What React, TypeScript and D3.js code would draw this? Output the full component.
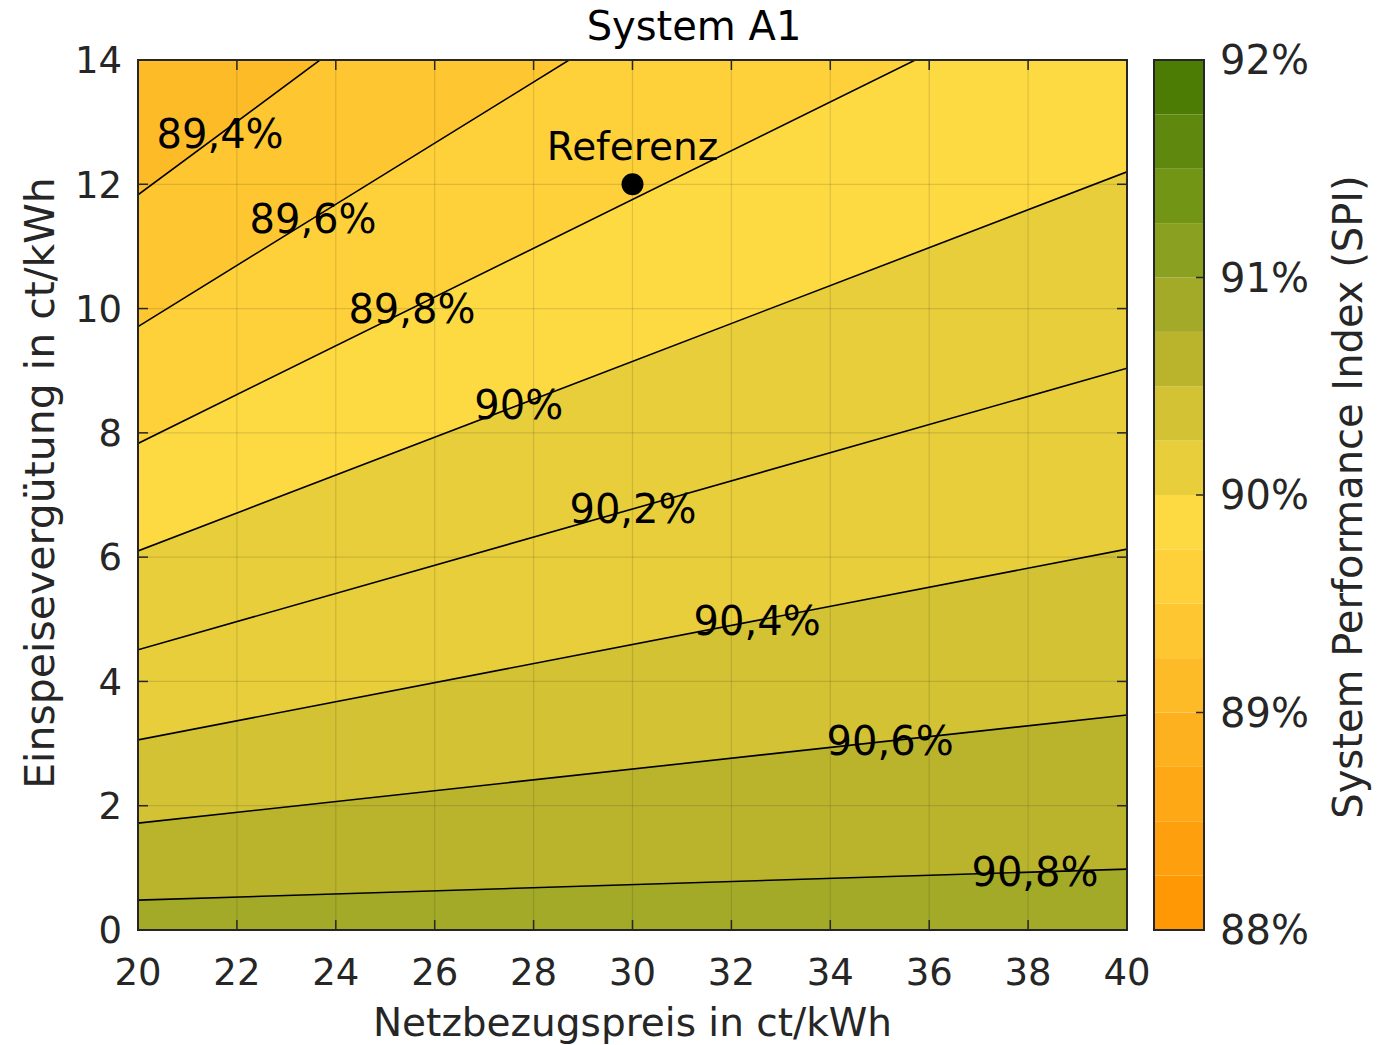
import React from "react";
import * as d3 from "d3";

// ---------- data ----------
const levels = [89.4, 89.6, 89.8, 90.0, 90.2, 90.4, 90.6, 90.8];
const levelLabels = ["89,4%", "89,6%", "89,8%", "90%", "90,2%", "90,4%", "90,6%", "90,8%"];
// contour line ordinates at x = 20 and x = 40 (ct/kWh)
const yAtX20 = [11.83, 9.71, 7.83, 6.10, 4.51, 3.06, 1.72, 0.48];
const yAtX40 = [23.62, 19.55, 15.68, 12.2, 9.04, 6.13, 3.46, 0.98];
// x position of each contour label
const labelX = [21.66, 23.54, 25.54, 27.7, 30.01, 32.52, 35.21, 38.14];
const xTicks = [20, 22, 24, 26, 28, 30, 32, 34, 36, 38, 40];
const yTicks = [0, 2, 4, 6, 8, 10, 12, 14];
const cbarTicks = [88, 89, 90, 91, 92];
const cbarTickLabels = ["88%", "89%", "90%", "91%", "92%"];
const cmapColors = [
  "#FF9804", "#FEA00D", "#FEA816", "#FDB11F", "#FDBB28", "#FEC631", "#FED13A", "#FEDA42",
  "#E8CE3B", "#D2C234", "#BAB42D", "#A2AA27", "#8AA020", "#739516", "#5F890E", "#4C7C04",
];
const refPoint = { x: 30, y: 12, label: "Referenz" };
const baseLevel = 89.2; // level of the region above the first contour line

// ---------- layout ----------
const W = 1385, H = 1045;
const L = 138, R = 1127, T = 60, B = 930;
const CB_L = 1154, CB_R = 1204;
const FONT = "'DejaVu Sans', Verdana, sans-serif";
const AX = "#262626";

export default function App() {
  const x = d3.scaleLinear().domain([20, 40]).range([L, R]);
  const y = d3.scaleLinear().domain([0, 14]).range([B, T]);
  const cmap = d3.scaleQuantize<string>().domain([88, 92]).range(cmapColors);
  const cbY = d3.scaleLinear().domain([88, 92]).range([B, T]);
  const line = d3.line<[number, number]>().x((d) => x(d[0])).y((d) => y(d[1]));

  const lineY = (i: number, xv: number) => yAtX20[i] + ((yAtX40[i] - yAtX20[i]) * (xv - 20)) / 20;

  const fs = 37;
  const lfs = 40;
  const step = 4 / cmapColors.length;

  return (
    <svg width={W} height={H} style={{ position: "absolute", left: 0, top: 0, display: "block" }} fontFamily={FONT}>
      <defs>
        <clipPath id="plotclip">
          <rect x={L} y={T} width={R - L} height={B - T} />
        </clipPath>
      </defs>
      <rect width={W} height={H} fill="#fff" />
      <g clipPath="url(#plotclip)">
        <rect x={L} y={T} width={R - L} height={B - T} fill={cmap(baseLevel + 1e-6)} />
        {levels.map((lv, i) => (
          <path
            key={"f" + i}
            d={line([[20, yAtX20[i]], [40, yAtX40[i]], [40, -5], [20, -5]])! + "Z"}
            fill={cmap(lv + 1e-6)}
          />
        ))}
        {xTicks.slice(1, -1).map((t) => (
          <line key={"gx" + t} x1={x(t)} x2={x(t)} y1={T} y2={B} stroke={AX} strokeOpacity={0.15} strokeWidth={1.2} />
        ))}
        {yTicks.slice(1, -1).map((t) => (
          <line key={"gy" + t} x1={L} x2={R} y1={y(t)} y2={y(t)} stroke={AX} strokeOpacity={0.15} strokeWidth={1.2} />
        ))}
        {levels.map((lv, i) => (
          <path key={"l" + i} d={line([[20, yAtX20[i]], [40, yAtX40[i]]])!} fill="none" stroke="#000" strokeWidth={1.6} />
        ))}
        {levels.map((lv, i) => (
          <text
            key={"t" + i}
            x={x(labelX[i])}
            y={y(lineY(i, labelX[i])) + 0.36 * lfs}
            textAnchor="middle"
            fontSize={lfs}
            fill="#000"
          >
            {levelLabels[i]}
          </text>
        ))}
        <circle cx={x(refPoint.x)} cy={y(refPoint.y)} r={11} fill="#000" />
        <text x={x(refPoint.x)} y={y(refPoint.y) - 24} textAnchor="middle" fontSize={39} fill="#000">
          {refPoint.label}
        </text>
      </g>
      {/* ticks */}
      {xTicks.map((t) => (
        <g key={"xt" + t}>
          <line x1={x(t)} x2={x(t)} y1={B} y2={B - 10} stroke={AX} strokeWidth={1.5} />
          <line x1={x(t)} x2={x(t)} y1={T} y2={T + 10} stroke={AX} strokeWidth={1.5} />
          <text x={x(t)} y={985} textAnchor="middle" fontSize={fs} fill={AX}>
            {t}
          </text>
        </g>
      ))}
      {yTicks.map((t) => (
        <g key={"yt" + t}>
          <line x1={L} x2={L + 10} y1={y(t)} y2={y(t)} stroke={AX} strokeWidth={1.5} />
          <line x1={R} x2={R - 10} y1={y(t)} y2={y(t)} stroke={AX} strokeWidth={1.5} />
          <text x={122} y={y(t) + 0.36 * fs} textAnchor="end" fontSize={fs} fill={AX}>
            {t}
          </text>
        </g>
      ))}
      <rect x={L} y={T} width={R - L} height={B - T} fill="none" stroke={AX} strokeWidth={2} />
      {/* title and axis labels */}
      <text x={694} y={40} textAnchor="middle" fontSize={40} fill="#000">
        System A1
      </text>
      <text x={(L + R) / 2} y={1036} textAnchor="middle" fontSize={39} fill={AX}>
        Netzbezugspreis in ct/kWh
      </text>
      <text transform={`translate(54,483) rotate(-90)`} textAnchor="middle" fontSize={41} fill={AX}>
        Einspeisevergütung in ct/kWh
      </text>
      {/* colorbar */}
      {cmapColors.map((c, i) => (
        <rect
          key={"cb" + i}
          x={CB_L}
          y={cbY(88 + (i + 1) * step)}
          width={CB_R - CB_L}
          height={cbY(88 + i * step) - cbY(88 + (i + 1) * step)}
          fill={c}
        />
      ))}
      {cbarTicks.map((t, i) => (
        <g key={"ct" + t}>
          <line x1={CB_R} x2={CB_R - 8} y1={cbY(t)} y2={cbY(t)} stroke={AX} strokeWidth={1.5} />
          <text x={1220} y={cbY(t) + 0.36 * 40} fontSize={40} fill={AX}>
            {cbarTickLabels[i]}
          </text>
        </g>
      ))}
      <rect x={CB_L} y={T} width={CB_R - CB_L} height={B - T} fill="none" stroke={AX} strokeWidth={2} />
      <text
        transform={`translate(1362,497) rotate(-90)`}
        textAnchor="middle"
        fontSize={40}
        fill={AX}
      >
        System Performance Index (SPI)
      </text>
    </svg>
  );
}
